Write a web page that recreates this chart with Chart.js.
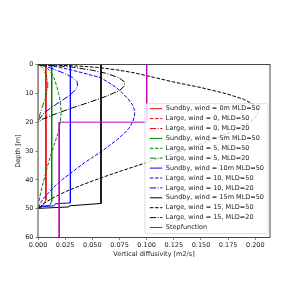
<!DOCTYPE html>
<html>
<head>
<meta charset="utf-8">
<script src="https://cdn.jsdelivr.net/npm/chart.js@4.4.0/dist/chart.umd.min.js"></script>
<style>
html, body { margin: 0; padding: 0; background: #fff; }
canvas { display: block; }
</style>
</head>
<body>
<canvas id="diffusivityChart" width="300" height="300"></canvas>
<script>
// Sundby profiles (depth [m] / diffusivity [m2/s])
const sundby0Depth = [0, 47.0, 48.9, 49.7];
const sundby0Kz = [0.0073, 0.0073, 0.0043, 0];
const sundby5Depth = [0, 47.5, 48.8, 49.2, 49.8];
const sundby5Kz = [0.0126, 0.0126, 0.011, 0.003, 0];
const sundby10Depth = [0, 48.0, 48.3, 49.0, 49.3, 49.8];
const sundby10Kz = [0.0298, 0.0298, 0.016, 0.015, 0.004, 0];
const sundby15Depth = [0, 48.2, 49.0, 49.4, 49.9];
const sundby15Kz = [0.058, 0.058, 0.029, 0.0285, 0];

// Large et al. profiles, MLD = 50
const large0Mld50Depth = [0, 50];
const large0Mld50Kz = [0, 0];
const large50Depth = [0, 0.5, 1, 2, 3, 4.5, 6, 8, 10, 12, 14, 16, 18, 20, 22, 24, 26, 28, 30, 32, 34, 36, 38, 40, 42, 44, 46, 48, 50];
const large5Mld50Kz = [0, 0.005, 0.0075, 0.0105, 0.0125, 0.0145, 0.016, 0.0175, 0.019, 0.0201, 0.0208, 0.0212, 0.0211, 0.0205, 0.0196, 0.0184, 0.0165, 0.0148, 0.013, 0.0113, 0.0097, 0.0082, 0.0068, 0.0054, 0.0041, 0.0028, 0.0016, 0.0007, 0];
const large10Mld50Kz = [0, 0.012, 0.02, 0.032, 0.042, 0.057, 0.064, 0.072, 0.078, 0.083, 0.087, 0.089, 0.0888, 0.087, 0.084, 0.079, 0.073, 0.066, 0.059, 0.051, 0.043, 0.036, 0.029, 0.022, 0.016, 0.011, 0.006, 0.0025, 0];
const large15Mld50Kz = [0, 0.035, 0.055, 0.075, 0.090, 0.107, 0.124, 0.150, 0.172, 0.189, 0.199, 0.203, 0.201, 0.195, 0.186, 0.174, 0.161, 0.147, 0.132, 0.116, 0.100, 0.084, 0.068, 0.053, 0.039, 0.026, 0.015, 0.006, 0];

// Large et al. profiles, MLD = 20
const large0Mld20Depth = [0, 20];
const large0Mld20Kz = [0, 0];
const large20Depth = [0, 0.5, 1, 2, 3, 4.5, 6, 7.5, 9, 11, 13, 15, 17, 19, 20];
const large5Mld20Kz = [0, 0.0025, 0.0038, 0.0055, 0.0068, 0.0082, 0.0089, 0.009, 0.0085, 0.0072, 0.0055, 0.0037, 0.002, 0.0006, 0];
const large10Mld20Kz = [0, 0.006, 0.01, 0.017, 0.024, 0.032, 0.036, 0.0364, 0.034, 0.028, 0.020, 0.012, 0.005, 0.0012, 0];
const large15Mld20Kz = [0, 0.02, 0.033, 0.05, 0.062, 0.074, 0.0795, 0.0795, 0.075, 0.063, 0.048, 0.032, 0.017, 0.004, 0];

// Step function
const stepDepth = [0, 20, 20, 60];
const stepKz = [0.1, 0.1, 0.0195, 0.0195];

const xTickValues = [0, 0.025, 0.05, 0.075, 0.1, 0.125, 0.15, 0.175, 0.2];
const yTickValues = [0, 10, 20, 30, 40, 50, 60];

const DASHED = [3.6, 1.6];
const DASHDOT = [6.2, 1.6, 1, 1.6];

function profile(depths, values) {
    return depths.map((d, i) => ({ x: values[i], y: d }));
}

const series = [
    { label: "Sundby, wind = 0m MLD=50", data: profile(sundby0Depth, sundby0Kz), color: "#ff0000", dash: [] },
    { label: "Large, wind = 0, MLD=50", data: profile(large0Mld50Depth, large0Mld50Kz), color: "#ff0000", dash: DASHED },
    { label: "Large, wind = 0, MLD=20", data: profile(large0Mld20Depth, large0Mld20Kz), color: "#ff0000", dash: DASHDOT },
    { label: "Sundby, wind = 5m MLD=50", data: profile(sundby5Depth, sundby5Kz), color: "#008000", dash: [] },
    { label: "Large, wind = 5, MLD=50", data: profile(large50Depth, large5Mld50Kz), color: "#008000", dash: DASHED },
    { label: "Large, wind = 5, MLD=20", data: profile(large20Depth, large5Mld20Kz), color: "#008000", dash: DASHDOT },
    { label: "Sundby, wind = 10m MLD=50", data: profile(sundby10Depth, sundby10Kz), color: "#0000ff", dash: [] },
    { label: "Large, wind = 10, MLD=50", data: profile(large50Depth, large10Mld50Kz), color: "#0000ff", dash: DASHED },
    { label: "Large, wind = 10, MLD=20", data: profile(large20Depth, large10Mld20Kz), color: "#0000ff", dash: DASHDOT },
    { label: "Sundby, wind = 15m MLD=50", data: profile(sundby15Depth, sundby15Kz), color: "#000000", dash: [] },
    { label: "Large, wind = 15, MLD=50", data: profile(large50Depth, large15Mld50Kz), color: "#000000", dash: DASHED },
    { label: "Large, wind = 15, MLD=20", data: profile(large20Depth, large15Mld20Kz), color: "#000000", dash: DASHDOT },
    { label: "Stepfunction", data: profile(stepDepth, stepKz), color: "#bf00bf", dash: [] }
];

// matplotlib draws later lines on top
const datasets = series.map((s, i) => ({
    label: s.label,
    data: s.data,
    showLine: true,
    borderColor: s.color,
    backgroundColor: s.color,
    borderWidth: 1,
    borderDash: s.dash,
    pointRadius: 0,
    tension: 0,
    clip: { left: -0.7, top: 0, right: 0, bottom: 0 },
    order: series.length - i
}));

// axes box drawn over the lines, like the spines
const frameBox = {
    id: "frameBox",
    afterDatasetsDraw(chart) {
        const { ctx, chartArea: a } = chart;
        ctx.save();
        ctx.strokeStyle = "#333";
        ctx.lineWidth = 0.9;
        ctx.strokeRect(a.left, a.top, a.right - a.left, a.bottom - a.top);
        ctx.restore();
    }
};

// legend inside the plot, lower right
const insideLegend = {
    id: "insideLegend",
    afterDraw(chart) {
        const { ctx, chartArea: a } = chart;
        const sets = chart.data.datasets;
        ctx.save();
        ctx.font = "6.5px 'DejaVu Sans'";
        const textW = Math.max(...sets.map(d => ctx.measureText(d.label).width));
        const rowH = 9.9;
        const boxW = 21 + textW + 4;
        const boxH = rowH * (sets.length - 1) + 11.2;
        const right = a.right - 2;
        const bottom = a.bottom - 3.8;
        const left = right - boxW;
        const top = bottom - boxH;

        ctx.beginPath();
        ctx.roundRect(left, top, boxW, boxH, 2);
        ctx.fillStyle = "rgba(255,255,255,0.8)";
        ctx.fill();
        ctx.strokeStyle = "#cccccc";
        ctx.lineWidth = 0.6;
        ctx.stroke();

        sets.forEach((d, i) => {
            const y = top + 5 + i * rowH;
            ctx.beginPath();
            ctx.setLineDash(d.borderDash);
            ctx.strokeStyle = d.borderColor;
            ctx.lineWidth = 1;
            ctx.moveTo(left + 5, y);
            ctx.lineTo(left + 17.5, y);
            ctx.stroke();
            ctx.setLineDash([]);
            ctx.fillStyle = "#222";
            ctx.textBaseline = "middle";
            ctx.textAlign = "left";
            ctx.fillText(d.label, left + 21, y);
        });
        ctx.restore();
    }
};

Chart.defaults.font.family = "'DejaVu Sans'";
Chart.defaults.font.size = 6.5;
Chart.defaults.color = "#222";

new Chart(document.getElementById("diffusivityChart"), {
    type: "scatter",
    data: { datasets: datasets },
    options: {
        responsive: false,
        animation: false,
        layout: { padding: { top: 64.5, right: 30, bottom: 0, left: 0 } },
        plugins: {
            legend: { display: false },
            tooltip: { enabled: false }
        },
        scales: {
            x: {
                type: "linear",
                min: 0,
                max: 0.2135,
                afterBuildTicks: scale => { scale.ticks = xTickValues.map(v => ({ value: v })); },
                afterFit: scale => { scale.height = 62.5; },
                ticks: { padding: 1.5, maxRotation: 0, callback: v => v.toFixed(3) },
                grid: { drawOnChartArea: false, drawTicks: true, tickLength: 2.5, tickColor: "#333", lineWidth: 0.6 },
                border: { display: false },
                title: { display: true, text: "Vertical diffusivity [m2/s]", padding: { top: 0, bottom: 42 } }
            },
            y: {
                type: "linear",
                reverse: true,
                min: 0,
                max: 60,
                afterBuildTicks: scale => { scale.ticks = yTickValues.map(v => ({ value: v })); },
                afterFit: scale => { scale.width = 38; },
                ticks: { padding: 2, callback: v => String(v) },
                grid: { drawOnChartArea: false, drawTicks: true, tickLength: 2.5, tickColor: "#333", lineWidth: 0.6 },
                border: { display: false },
                title: { display: true, text: "Depth [m]", padding: { top: 14.4, bottom: 0 } }
            }
        }
    },
    plugins: [frameBox, insideLegend]
});
</script>
</body>
</html>
